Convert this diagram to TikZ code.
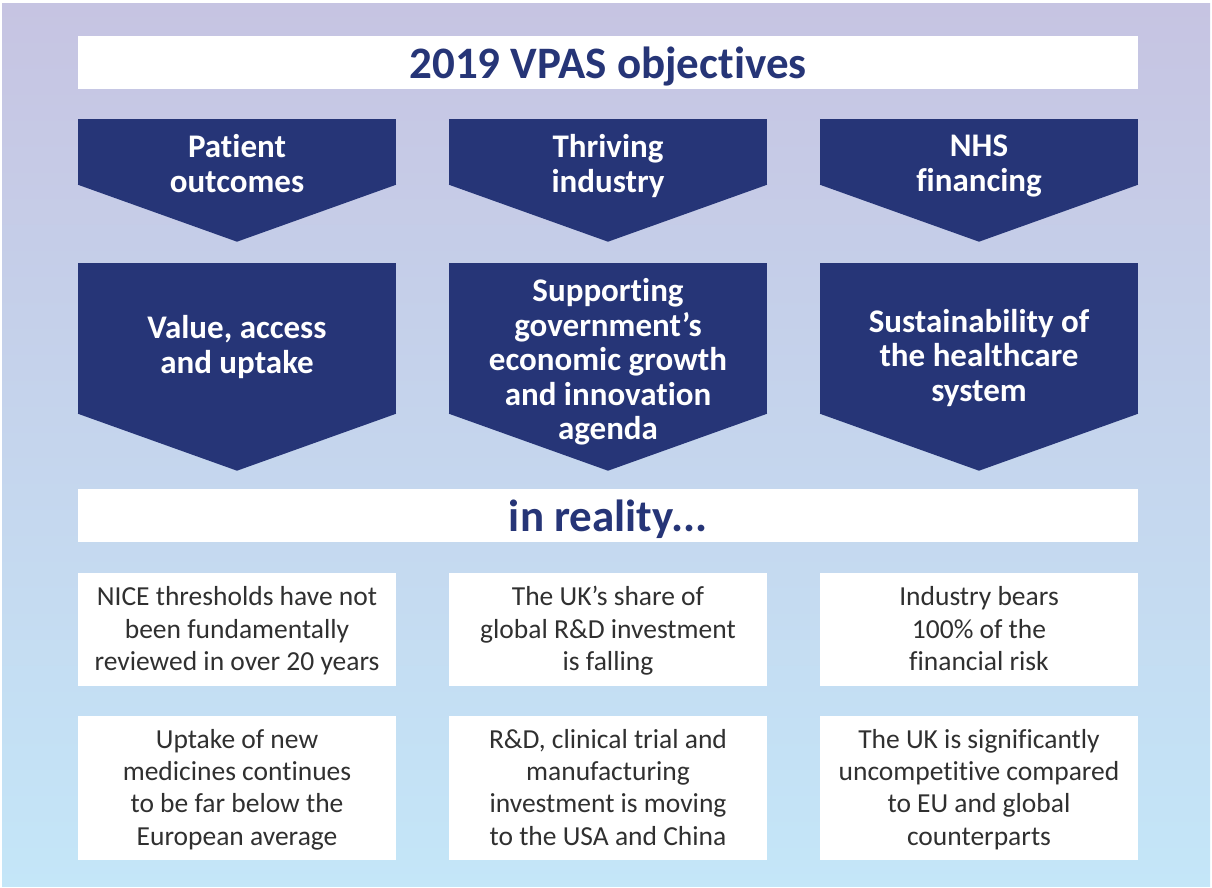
\documentclass[tikz,border=0pt]{standalone}
\usepackage{fontspec}
\setmainfont{Carlito}[Ligatures=NoCommon]
\usepackage{xcolor}
\usepackage{tikz}
\usetikzlibrary{positioning}

\definecolor{vpasnavy}{RGB}{38,53,119}
\definecolor{bodygray}{RGB}{48,48,48}
\definecolor{bgtop}{RGB}{198,196,226}
\definecolor{bgbottom}{RGB}{196,230,248}

\begin{document}
\begin{tikzpicture}[
    x=1pt, y=1pt,
    node distance=371pt,
    struts/.style={execute at begin node=\strut, execute at end node=\strut},
    banner/.style={rectangle, fill=white, minimum width=1060pt, minimum height=53pt, inner sep=0pt, text height=36pt, text depth=3pt, text=vpasnavy, font=\fontsize{45}{48}\selectfont\bfseries},
    chevron/.style={rectangle, fill=vpasnavy, minimum width=318pt, inner sep=0pt},
    objective/.style={chevron, minimum height=66pt},
    aim/.style={chevron, minimum height=151pt},
    chevtext/.style={struts, text=white, align=center, inner sep=0pt, font=\fontsize{33}{34.5}\selectfont\bfseries},
    fact/.style={rectangle, fill=white, minimum width=318pt, inner sep=0pt, text depth=2pt, align=center, text=bodygray, font=\fontsize{27.5}{32.3}\selectfont}
]

    % Background
    \useasboundingbox (0,0) rectangle (1212,-888);
    \fill [white] (0,0) rectangle (1212,-888);
    \fill [top color=bgtop, bottom color=bgbottom] (2,-4) rectangle (1210,-886);

    % Nodes
    % Title
    \node [banner] (title) at (608,-62.5) {2019 VPAS objectives};

    % Objectives (top chevrons)
    \node [objective, below of=title, node distance=89.5pt] (ti) {};
    \node [objective, left of=ti] (po) {};
    \node [objective, right of=ti] (nf) {};

    % Aims (tall chevrons)
    \node [aim, below of=ti, node distance=186.5pt] (sg) {};
    \node [aim, left of=sg] (va) {};
    \node [aim, right of=sg] (sh) {};

    % Pointer tips
    \foreach \n in {po, ti, nf, va, sg, sh}
        \fill [vpasnavy] ([yshift=0.5pt]\n.south west) -- ([yshift=0.5pt]\n.south east) -- ([yshift=-56.5pt]\n.south) -- cycle;

    % Chevron labels
    \node [chevtext] (potxt) at ([yshift=-16.6pt]po.center) {Patient\\outcomes};
    \node [chevtext] (titxt) at ([yshift=-16.6pt]ti.center) {Thriving\\industry};
    \node [chevtext] (nftxt) at ([yshift=-16.6pt]nf.center) {NHS\\financing};
    \node [chevtext] (vatxt) at ([yshift=-11pt]va.center) {Value, access\\and uptake};
    \node [chevtext] (sgtxt) at ([yshift=-25.6pt]sg.center) {Supporting\\government’s\\economic growth\\and innovation\\agenda};
    \node [chevtext] (shtxt) at ([yshift=-21.6pt]sh.center) {Sustainability of\\the healthcare\\system};

    % Reality banner
    \node [banner, below of=sg, node distance=176.5pt] (reality) {in reality...};

    % Facts, first row
    \node [fact, minimum height=113pt, below of=reality, node distance=114.5pt] (share) {The UK’s share of\\global R\&D investment\\is falling};
    \node [fact, minimum height=113pt, left of=share] (nice) {NICE thresholds have not\\been fundamentally\\reviewed in over 20 years};
    \node [fact, minimum height=113pt, right of=share] (risk) {Industry bears\\100\% of the\\financial risk};

    % Facts, second row
    \node [fact, minimum height=144pt, below of=share, node distance=158.5pt] (moving) {R\&D, clinical trial and\\manufacturing\\investment is moving\\to the USA and China};
    \node [fact, minimum height=144pt, left of=moving] (uptake) {Uptake of new\\medicines continues\\to be far below the\\European average};
    \node [fact, minimum height=144pt, right of=moving] (uncomp) {The UK is significantly\\uncompetitive compared\\to EU and global\\counterparts};

\end{tikzpicture}
\end{document}
